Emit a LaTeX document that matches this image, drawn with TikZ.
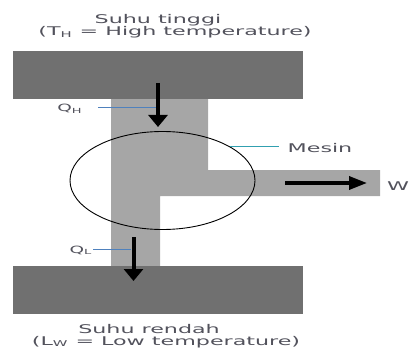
\documentclass[tikz,border=0pt]{standalone}
\usepackage{fontspec}
\setmainfont{DejaVu Sans}
\usetikzlibrary{arrows.meta}
\definecolor{reservoir}{RGB}{112,112,112}
\definecolor{flow}{RGB}{166,166,166}
\definecolor{txt}{RGB}{82,82,92}
\definecolor{qline}{RGB}{79,129,189}
\definecolor{mline}{RGB}{49,160,176}
\newcommand\widetext[1]{\scalebox{1.85}[1]{#1}}
\tikzset{
  lbl/.style={text=txt, inner sep=0pt, anchor=base, font=\fontsize{12}{12}\selectfont},
  qlbl/.style={text=txt, inner sep=0pt, anchor=base, font=\fontsize{10}{10}\selectfont},
  heat/.style={line width=4pt, -{Triangle[width=19pt,length=12pt]}},
  work/.style={line width=3.5pt, -{Triangle[width=13pt,length=18pt]}},
}
\begin{document}
\begin{tikzpicture}[x=1pt,y=-1pt]
\useasboundingbox (0,0) rectangle (409,358);
% flow band
\fill[flow] (111,99) -- (208,99) -- (208,170) -- (380,170) -- (380,196) -- (160,196) -- (160,266) -- (111,266) -- cycle;
% reservoirs
\fill[reservoir] (13,51) rectangle (303,99);
\fill[reservoir] (13,266) rectangle (303,314);
% engine
\draw[black, line width=0.9pt] (162.5,180.5) ellipse [x radius=92.5, y radius=49];
% coordinates
\coordinate (qhs) at (158,83);
\coordinate (qht) at (158,127);
\coordinate (qls) at (133.5,237);
\coordinate (qlt) at (133.5,281);
\coordinate (ws) at (285,183);
\coordinate (wt) at (367,183);
\coordinate (qhl1) at (98,108);
\coordinate (qhl2) at (156,108);
\coordinate (qll1) at (93,249);
\coordinate (qll2) at (131,249);
\coordinate (ml1) at (230,147);
\coordinate (ml2) at (279,147);
% arrows
\draw[heat] (qhs) -- (qht);
\draw[heat] (qls) -- (qlt);
\draw[work] (ws) -- (wt);
% leader lines
\draw[qline, line width=1pt] (qhl1) -- (qhl2);
\draw[qline, line width=1pt] (qll1) -- (qll2);
\draw[mline, line width=1pt] (ml1) -- (ml2);
% labels
\node[lbl] (t1) at (158,24) {\widetext{Suhu tinggi}};
\node[lbl] (t2) at (175,36) {\widetext{(T\textsubscript{H} = High temperature)}};
\node[lbl] (b1) at (149,333) {\widetext{Suhu rendah}};
\node[lbl] (b2) at (166,345) {\widetext{(L\textsubscript{W} = Low temperature)}};
\node[lbl] (mesin) at (320,152.5) {\widetext{Mesin}};
\node[lbl] (w) at (398,190) {\widetext{W}};
\node[qlbl] (qh) at (70,112) {\widetext{Q\textsubscript{H}}};
\node[qlbl] (ql) at (81,253) {\widetext{Q\textsubscript{L}}};
\end{tikzpicture}
\end{document}
